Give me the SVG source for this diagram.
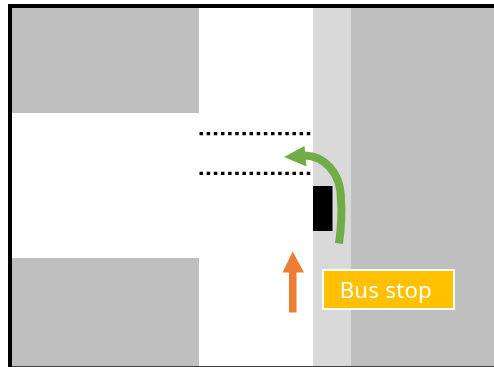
<svg xmlns="http://www.w3.org/2000/svg" width="494" height="367" viewBox="0 0 494 367">
<style>
.block{fill:#bfbfbf}
.dots{fill:none;stroke:#000;stroke-width:3.2;stroke-dasharray:3.5 3.65}
</style>
<rect width="494" height="367" fill="#fff"/>
<g id="blocks">
<rect class="block" x="12" y="8" width="187" height="105"/>
<rect class="block" x="12" y="258" width="187" height="108"/>
<rect class="block" x="351" y="8" width="143" height="358"/>
<rect x="313" y="8" width="38" height="358" fill="#d9d9d9"/>
</g>
<g id="frame">
<rect x="8" y="4" width="486" height="4"/>
<rect x="8" y="4" width="4" height="363"/>
<rect x="12" y="366" width="482" height="1" fill="#404040"/>
</g>
<g id="connectors">
<path class="dots" d="M199.500 133.700H311"/>
<path class="dots" d="M199.500 173.300H311"/>
<path d="M339 243.500C341.500 225 342 212 341 200C341 170 322 156 305 155.500" fill="none" stroke="#70ad47" stroke-width="8"/>
<path d="M284 157L304.500 146L306.500 166.500Z" fill="#70ad47"/>
<path d="M292.700 251.500L304 272.500H296.500V312.500H289V272.500H282.500Z" fill="#ed7d31"/>
</g>
<g id="bus">
<rect x="313" y="186" width="19.500" height="45" fill="#000"/>
</g>
<g id="bus-stop">
<rect x="323" y="270" width="131" height="39" fill="#ffc000" stroke="#fff" stroke-width="2"/>
<text x="340" y="297.500" font-family="'Open Sans','Noto Sans',sans-serif" font-size="22" letter-spacing="0.4" fill="#fff">Bus stop</text>
</g>
</svg>
